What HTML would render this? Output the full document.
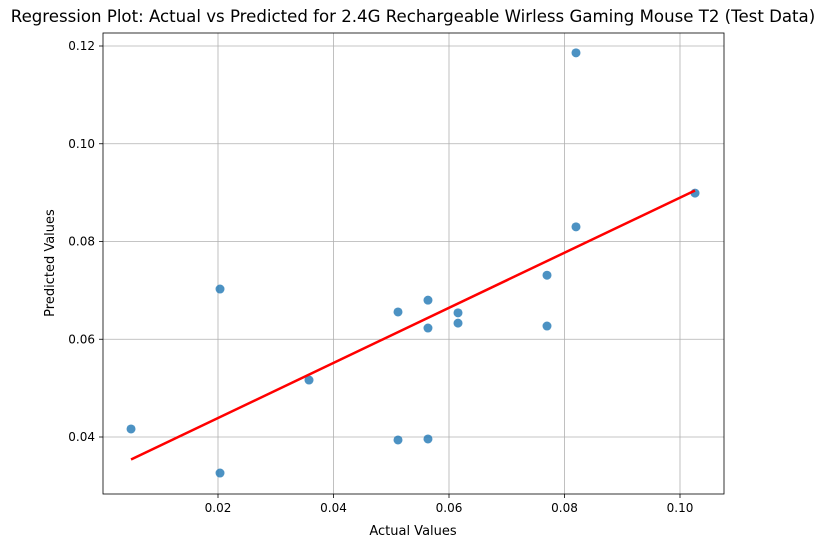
<!DOCTYPE html>
<html><head><meta charset="utf-8"><style>
body{margin:0;background:#fff;font-family:"Liberation Sans","DejaVu Sans",sans-serif}
svg text{font-family:"DejaVu Sans","Liberation Sans",sans-serif;fill:#000}
</style></head><body>
<svg id="chart" width="826" height="547">
<g id="grid"></g>
<rect x="103" y="33" width="621" height="461" fill="none" stroke="#000" stroke-width="0.8"/>
<g id="ticks"></g>
<g id="points"></g>
<g id="line"></g>
<text x="413" y="22" font-size="16.6" text-anchor="middle">Regression Plot: Actual vs Predicted for 2.4G Rechargeable Wirless Gaming Mouse T2 (Test Data)</text>
<text x="413" y="535" font-size="13" text-anchor="middle">Actual Values</text>
<text x="54" y="263" font-size="13" text-anchor="middle" transform="rotate(-90 54 263)">Predicted Values</text>
</svg>
<script>
const actual=[0.00494,0.02035,0.02035,0.03576,0.05117,0.05117,0.05636,0.05636,0.05636,0.06156,0.06156,0.07697,0.07697,0.08199,0.08199,0.1026];
const predicted=[0.04164,0.07028,0.03263,0.05166,0.06558,0.03939,0.0680,0.0623,0.0396,0.0654,0.0633,0.0731,0.0627,0.0830,0.1186,0.0899];
const xTicks=[0.02,0.04,0.06,0.08,0.10];
const yTicks=[0.04,0.06,0.08,0.10,0.12];
const NS="http://www.w3.org/2000/svg";
const X=v=>102.5+v*5775;
const Y=v=>437-(v-0.04)*4887.5;
function mk(t,a,p){const e=document.createElementNS(NS,t);for(const k in a)e.setAttribute(k,a[k]);p.appendChild(e);return e;}
const grid=document.getElementById('grid'),ticks=document.getElementById('ticks');
xTicks.forEach(t=>{const x=X(t);
 const g=mk('line',{x1:x,x2:x,y1:33,y2:494,stroke:'#b0b0b0','stroke-width':0.8},grid);
 
 
 const tk=mk('line',{x1:x,x2:x,y1:494,y2:498,stroke:'#000','stroke-width':0.8},ticks);
 
 
 const l=mk('text',{x:x,y:512,'font-size':12,'text-anchor':'middle'},ticks);l.textContent=t.toFixed(2);
 
 });
yTicks.forEach(t=>{const y=Y(t);
 const g=mk('line',{x1:103,x2:724,y1:y,y2:y,stroke:'#b0b0b0','stroke-width':0.8},grid);
 
 
 const tk=mk('line',{x1:99,x2:103,y1:y,y2:y,stroke:'#000','stroke-width':0.8},ticks);
 
 
 const l=mk('text',{x:95,y:y+4,'font-size':12,'text-anchor':'end'},ticks);l.textContent=t.toFixed(2);
 
 });
const pts=document.getElementById('points');
actual.forEach((a,i)=>{const c=mk('circle',{cx:X(a),cy:Y(predicted[i]),r:4.5,fill:'#1f77b4','fill-opacity':0.8},pts);
 
 });
const n=actual.length,mx=actual.reduce((s,v)=>s+v,0)/n,my=predicted.reduce((s,v)=>s+v,0)/n;
let sxy=0,sxx=0;actual.forEach((a,i)=>{sxy+=(a-mx)*(predicted[i]-my);sxx+=(a-mx)**2;});
const b=sxy/sxx,a0=my-b*mx,x0=Math.min(...actual),x1=Math.max(...actual);
const ln=mk('line',{x1:X(x0),y1:Y(a0+b*x0),x2:X(x1),y2:Y(a0+b*x1),stroke:'#ff0000','stroke-width':2.5},document.getElementById('line'));


</script>
</body></html>
